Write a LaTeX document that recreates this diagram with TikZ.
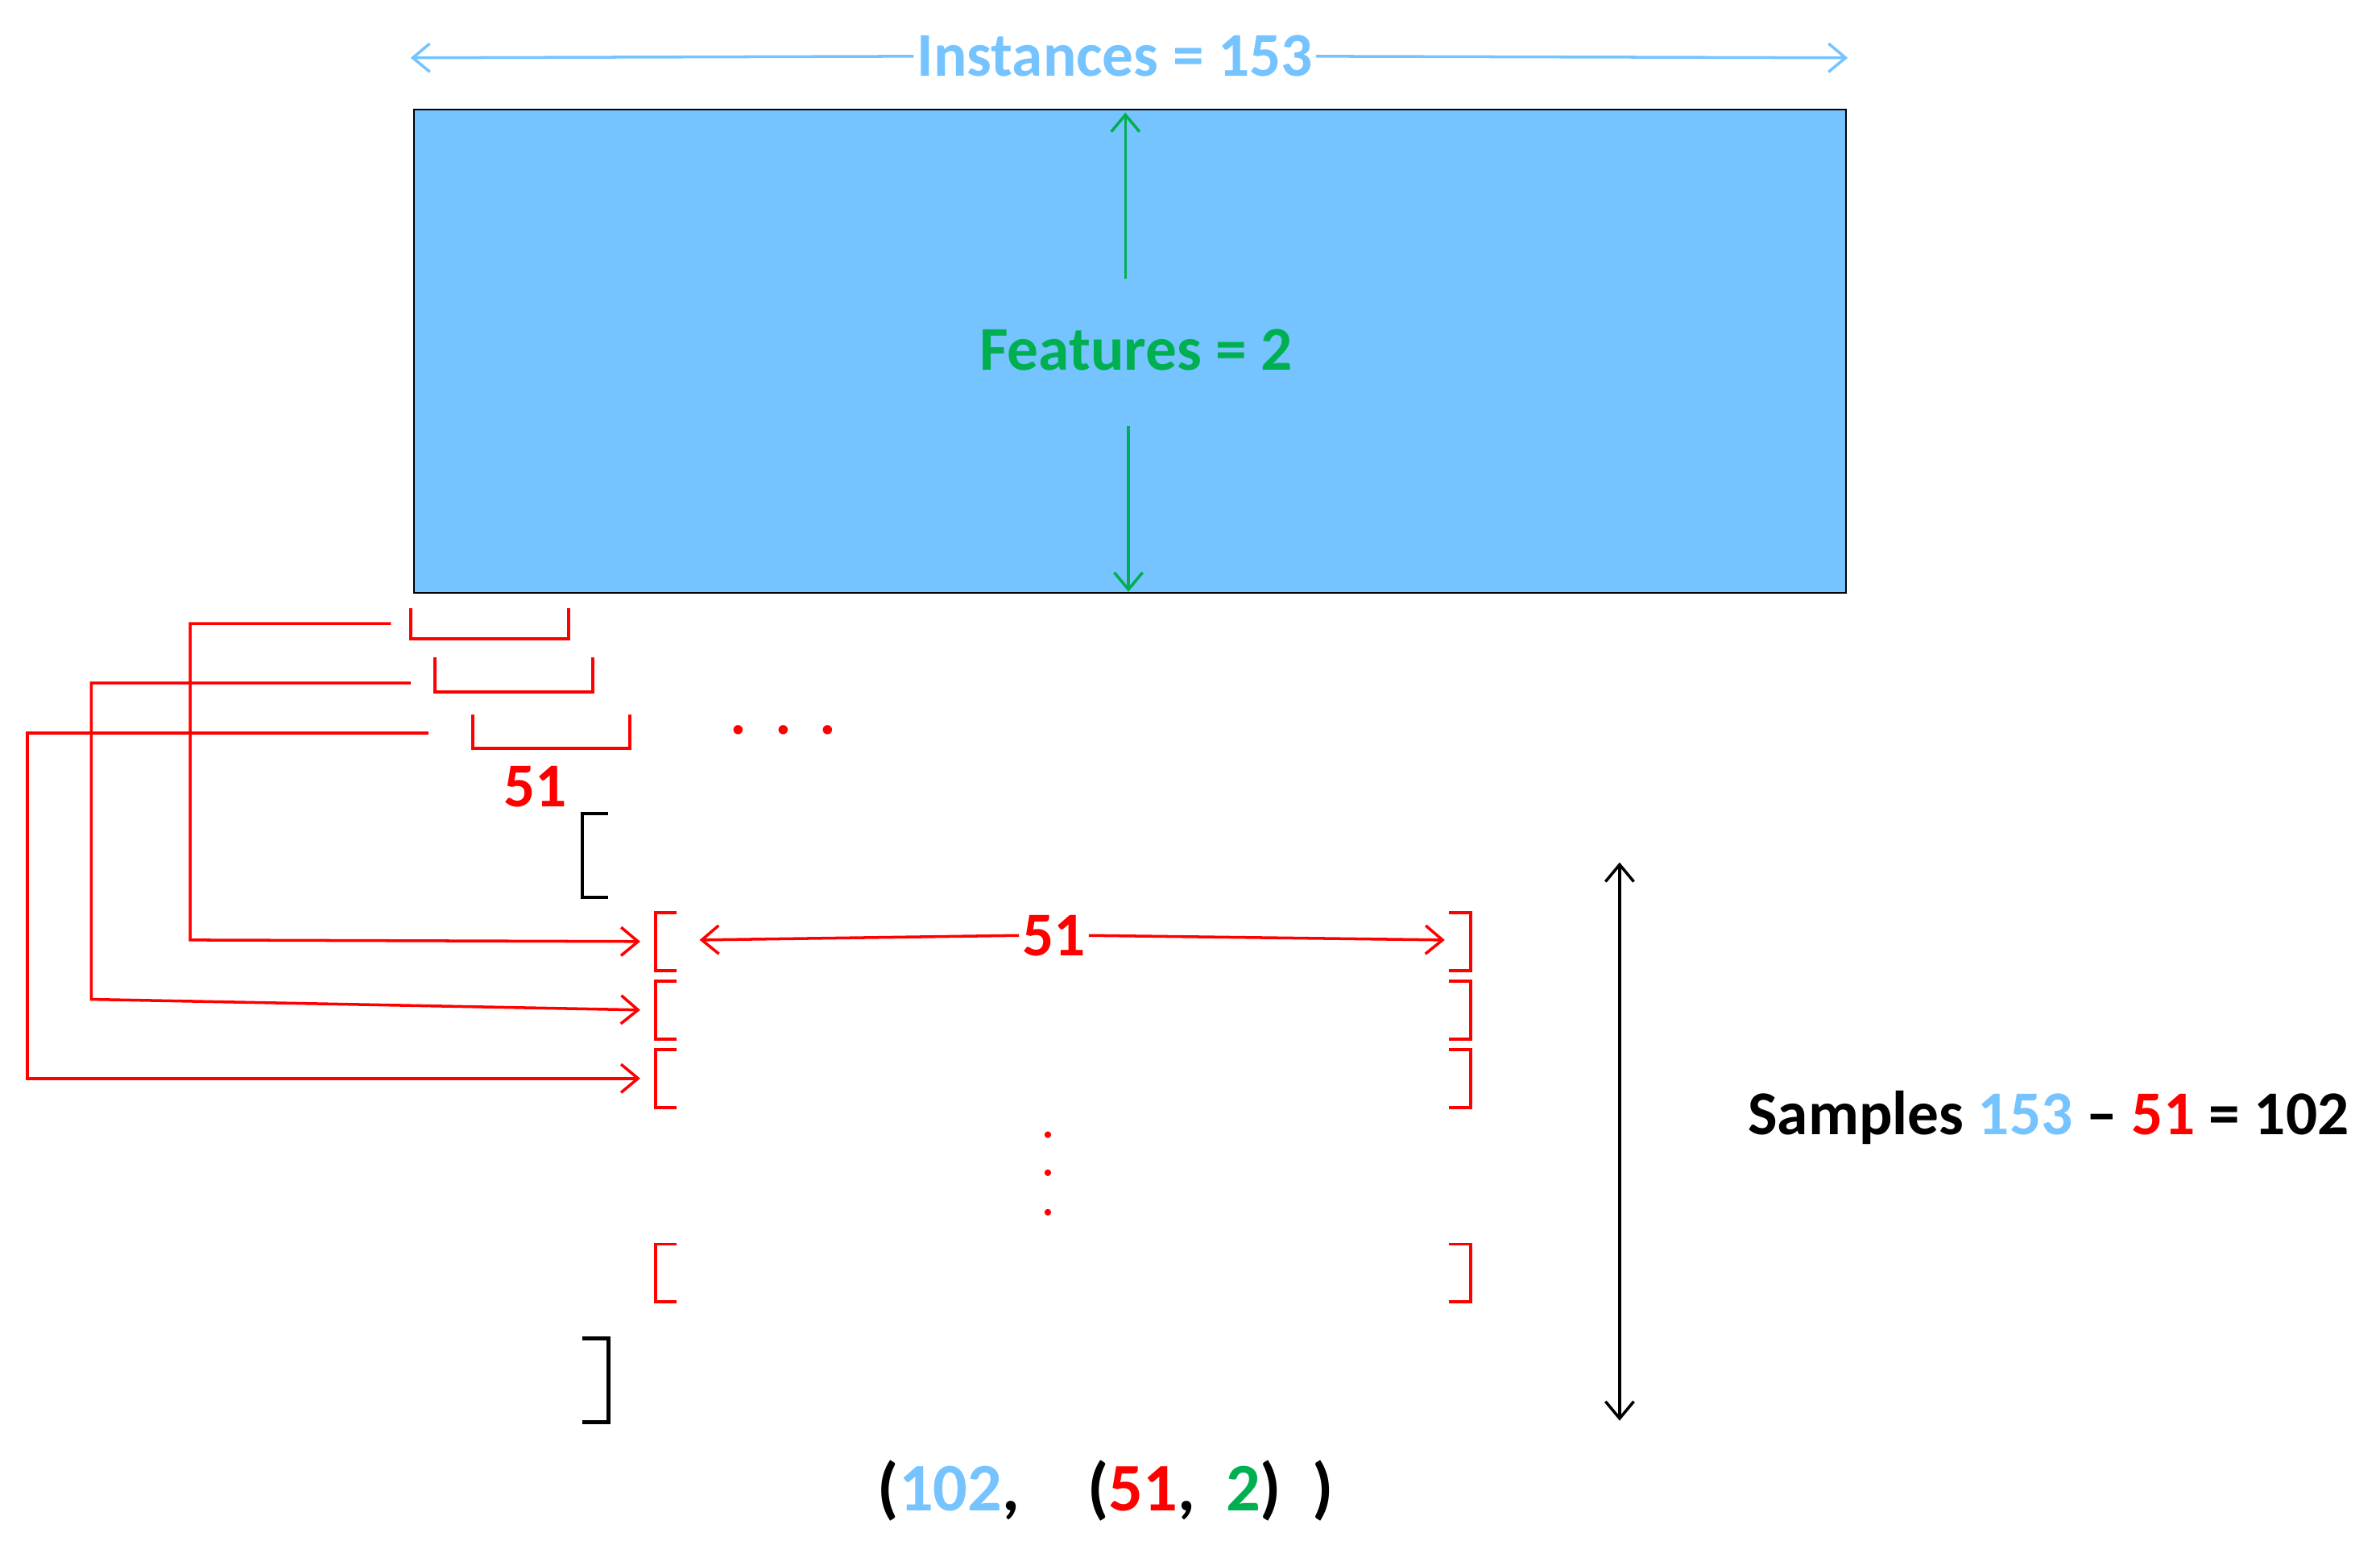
\documentclass[tikz,border=0pt]{standalone}
\usepackage{fontspec}
\setmainfont{Carlito}
\usetikzlibrary{arrows.meta,positioning}
\definecolor{skyblue}{HTML}{75C3FF}
\definecolor{featgreen}{HTML}{00B050}
\definecolor{winred}{HTML}{FF0000}

\begin{document}
\begin{tikzpicture}[
    x=0.01888cm, y=-0.01888cm,
    label/.style={font=\fontsize{22}{26}\selectfont\bfseries, inner sep=1pt},
    arrow/.style={-{Straight Barb[length=6pt,width=10pt]}, line width=1pt},
    both/.style={{Straight Barb[length=6pt,width=10pt]}-{Straight Barb[length=6pt,width=10pt]}, line width=1pt},
    bracket/.style={winred, line width=1.1pt},
    outer/.style={black, line width=1.3pt}
]
    \useasboundingbox (0,0) rectangle (1565,1013);
    % data block
    \draw[fill=skyblue, line width=0.6pt] (272,72) rectangle (1214,390);
    \node[label, text=skyblue] (inst) at (733,37) {Instances = 153};
    \coordinate (instL) at (270,38);
    \coordinate (instR) at (1215,38);
    \draw[arrow, skyblue] (inst.west) -- (instL);
    \draw[arrow, skyblue] (inst.east) -- (instR);
    \node[label, text=featgreen] (feat) at (747,230) {Features = 2};
    \coordinate (featT) at (740,74);
    \coordinate (featB) at (742,389);
    \draw[arrow, featgreen] (740,183) -- (featT);
    \draw[arrow, featgreen] (742,280) -- (featB);

    % sliding windows
    \draw[bracket] (270,400) -- (270,420) -- (374,420) -- (374,400);
    \draw[bracket] (286,432) -- (286,455) -- (390,455) -- (390,432);
    \draw[bracket] (311,470) -- (311,492) -- (414,492) -- (414,470);
    \node[label, text=winred] (win) at (352,517) {51};
    \node[label, text=winred] (hdots) at (515,480) {.\ \ .\ \ .};

    % rows of the output
    \foreach \top/\name in {600/r1, 645/r2, 690/r3, 818/rn} {
        \draw[bracket] (445,\top) -- (431,\top) -- (431,\top+38) -- (445,\top+38);
        \draw[bracket] (953,\top) -- (967,\top) -- (967,\top+38) -- (953,\top+38);
        \coordinate (\name) at (421,\top+19);
    }
    \draw[arrow, winred] (257,410) -- (125,410) -- (125,618) -- (r1);
    \draw[arrow, winred] (270,449) -- (60,449) -- (60,657) -- (r2);
    \draw[arrow, winred] (282,482) -- (18,482) -- (18,709) -- (r3);

    \node[label, text=winred] (len) at (693,615) {51};
    \coordinate (lenL) at (460,618);
    \coordinate (lenR) at (950,618);
    \draw[arrow, winred] (len.west) -- (lenL);
    \draw[arrow, winred] (len.east) -- (lenR);
    \foreach \y in {746,771,797}
        \fill[winred] (689,\y) circle (2.2);

    \draw[outer] (400,535) -- (383,535) -- (383,590) -- (400,590);
    \draw[outer] (383,880) -- (400,880) -- (400,935) -- (383,935);

    % sample count
    \coordinate (sT) at (1065,567);
    \coordinate (sB) at (1065,934);
    \draw[both, black] (sT) -- (sB);
    \node[label] (samp) at (1347,735) {Samples \textcolor{skyblue}{153} -- \textcolor{winred}{51} = 102};
    \node[label, font=\fontsize{24}{28}\selectfont\bfseries] (shape) at (727,980)
        {(\textcolor{skyblue}{102},\quad(\textcolor{winred}{51},\ \ \textcolor{featgreen}{2})\ \ )};
\end{tikzpicture}
\end{document}
